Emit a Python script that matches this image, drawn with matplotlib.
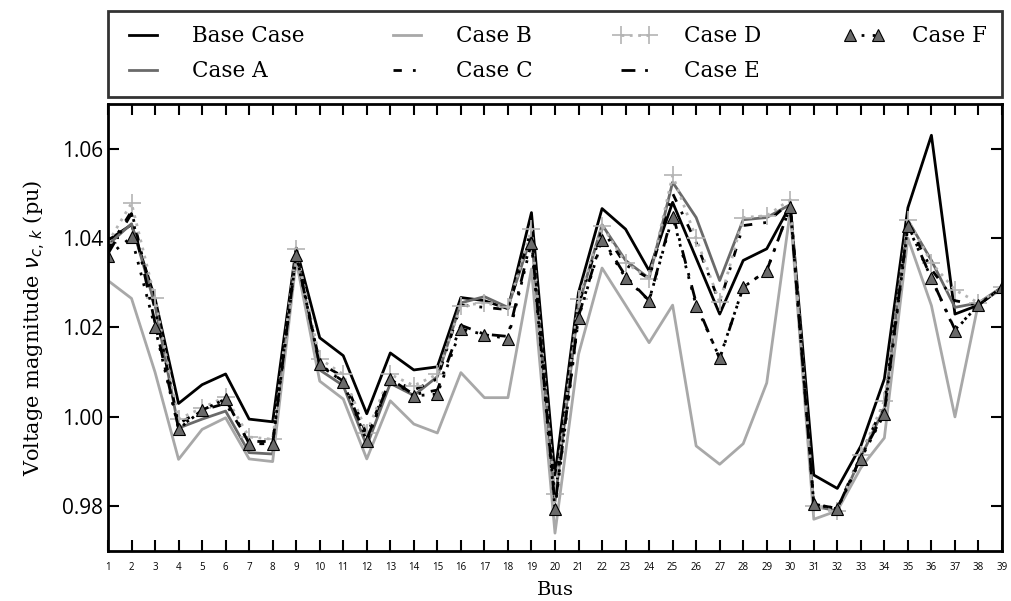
import matplotlib
matplotlib.use("Agg")
import matplotlib.pyplot as plt
import numpy as np

buses = list(range(1, 40))

base_case = [1.0395, 1.0430, 1.0265, 1.0030, 1.0072, 1.0096, 0.9995, 0.9989, 1.0378, 1.0177,
             1.0137, 1.0007, 1.0143, 1.0105, 1.0112, 1.0267, 1.0260, 1.0242, 1.0457, 0.9870,
             1.0278, 1.0466, 1.0420, 1.0327, 1.0480, 1.0355, 1.0230, 1.0350, 1.0376, 1.0473,
             0.9870, 0.9840, 0.9935, 1.0085, 1.0468, 1.0630, 1.0230, 1.0250, 1.0290]
case_a = [1.0385, 1.0432, 1.0250, 0.9975, 0.9995, 1.0013, 0.9920, 0.9917, 1.0365, 1.0105,
          1.0070, 0.9935, 1.0075, 1.0048, 1.0090, 1.0255, 1.0269, 1.0245, 1.0405, 0.9810,
          1.0250, 1.0430, 1.0350, 1.0310, 1.0525, 1.0446, 1.0305, 1.0441, 1.0446, 1.0475,
          0.9800, 0.9790, 0.9910, 1.0020, 1.0440, 1.0350, 1.0245, 1.0255, 1.0290]
case_b = [1.0305, 1.0265, 1.0100, 0.9905, 0.9972, 0.9998, 0.9906, 0.9900, 1.0350, 1.0080,
          1.0040, 0.9906, 1.0036, 0.9984, 0.9964, 1.0099, 1.0043, 1.0043, 1.0331, 0.9740,
          1.0140, 1.0333, 1.0250, 1.0166, 1.0250, 0.9935, 0.9894, 0.9940, 1.0076, 1.0460,
          0.9771, 0.9790, 0.9886, 0.9953, 1.0400, 1.0249, 1.0000, 1.0255, 1.0285]
case_c = [1.0375, 1.0460, 1.0240, 0.9985, 1.0015, 1.0030, 0.9945, 0.9945, 1.0370, 1.0120,
          1.0090, 0.9960, 1.0085, 1.0060, 1.0085, 1.0250, 1.0245, 1.0240, 1.0420, 0.9820,
          1.0250, 1.0420, 1.0340, 1.0310, 1.0500, 1.0390, 1.0255, 1.0428, 1.0435, 1.0480,
          0.9805, 0.9795, 0.9915, 1.0030, 1.0435, 1.0330, 1.0260, 1.0250, 1.0290]
case_d = [1.0390, 1.0478, 1.0265, 0.9995, 1.0020, 1.0045, 0.9955, 0.9950, 1.0375, 1.0130,
          1.0095, 0.9965, 1.0095, 1.0070, 1.0095, 1.0249, 1.0255, 1.0245, 1.0420, 0.9827,
          1.0264, 1.0428, 1.0345, 1.0309, 1.0540, 1.0400, 1.0256, 1.0446, 1.0450, 1.0486,
          0.9800, 0.9790, 0.9915, 1.0036, 1.0441, 1.0345, 1.0284, 1.0255, 1.0290]
case_e = [1.0365, 1.0455, 1.0210, 0.9975, 1.0015, 1.0040, 0.9940, 0.9940, 1.0365, 1.0115,
          1.0080, 0.9950, 1.0085, 1.0050, 1.0060, 1.0205, 1.0185, 1.0180, 1.0400, 0.9800,
          1.0225, 1.0400, 1.0315, 1.0260, 1.0455, 1.0255, 1.0130, 1.0290, 1.0327, 1.0470,
          0.9805, 0.9795, 0.9910, 1.0010, 1.0430, 1.0310, 1.0195, 1.0250, 1.0290]
case_f = [1.0360, 1.0402, 1.0200, 0.9973, 1.0015, 1.0040, 0.9940, 0.9940, 1.0362, 1.0119,
          1.0077, 0.9946, 1.0085, 1.0047, 1.0051, 1.0197, 1.0184, 1.0175, 1.0390, 0.9794,
          1.0222, 1.0396, 1.0311, 1.0260, 1.0448, 1.0249, 1.0132, 1.0290, 1.0327, 1.0470,
          0.9805, 0.9794, 0.9906, 1.0007, 1.0426, 1.0310, 1.0193, 1.0251, 1.0290]

y_ticks = [0.98, 1.00, 1.02, 1.04, 1.06]

serif = ["DejaVu Serif"]
tick_font = ["Open Sans", "DejaVu Sans"]

fig = plt.figure(figsize=(10.11, 6.01), dpi=100)
ax = fig.add_axes([0.1068, 0.0832, 0.8843, 0.7438])

lw = 2.0
ax.plot(buses, base_case, color="black", lw=lw, label="Base Case")
ax.plot(buses, case_a, color="#6a6a6a", lw=lw, label="Case A")
ax.plot(buses, case_b, color="#a8a8a8", lw=lw, label="Case B")
ax.plot(buses, case_c, color="black", lw=lw, dashes=(3, 4, 1, 4), label="Case C")
ax.plot(buses, case_d, color="#b4b4b4", lw=lw, linestyle=(0, (1, 2)), marker="+",
        markersize=13, markeredgewidth=1.2, label="Case D")
ax.plot(buses, case_e, color="black", lw=lw, dashes=(5, 3.5, 1, 3.5), label="Case E")
ax.plot(buses, case_f, color="black", lw=lw, linestyle=(0, (1, 3)), marker="^",
        markersize=8, markerfacecolor="#6a6a6a", markeredgecolor="black",
        markeredgewidth=0.8, label="Case F")

ax.set_xlim(1, 39)
ax.set_ylim(0.97, 1.07)
ax.set_xticks(buses)
ax.set_xticklabels([str(b) for b in buses], family=tick_font, fontsize=7)
ax.set_yticks(y_ticks)
ax.set_yticklabels([f"{v:.2f}" for v in y_ticks], family=tick_font, fontsize=15)

ax.tick_params(direction="in", length=8, width=1.5, top=True, right=True)
ax.tick_params(axis="x", pad=8)
for s in ax.spines.values():
    s.set_linewidth(2.0)

ax.set_xlabel("Bus", family=serif, fontsize=14, labelpad=6)
ax.set_ylabel(r"Voltage magnitude $\nu_{c,\,k}$ (pu)", family=serif, fontsize=15,
              labelpad=10)

leg = fig.legend(loc="lower left", bbox_to_anchor=(0.1068, 0.8386, 0.8843, 0.14),
                 mode="expand", ncol=4, frameon=True, fancybox=False, numpoints=2,
                 prop={"family": serif, "size": 15.5}, handlelength=1.9,
                 handletextpad=1.3, borderaxespad=0, labelspacing=0.6,
                 borderpad=0.68)
leg.get_frame().set_edgecolor("black")
leg.get_frame().set_linewidth(2.0)

fig.savefig("out.png", dpi=100)
